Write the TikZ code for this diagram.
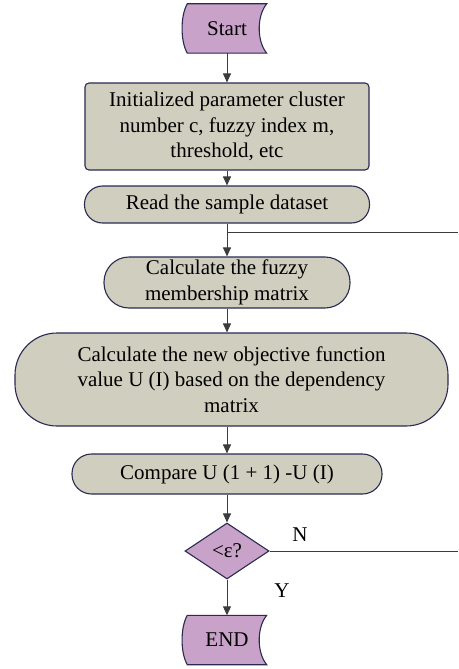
\documentclass[tikz,border=0pt]{standalone}
\usepackage{fontspec}
\setmainfont{Liberation Serif}
\usetikzlibrary{arrows.meta, shapes.geometric, backgrounds}
\definecolor{lilac}{RGB}{200,162,200}
\definecolor{stone}{RGB}{208,206,190}
\definecolor{rim}{RGB}{42,42,82}
\definecolor{linegray}{RGB}{60,60,60}

\begin{document}
\begin{tikzpicture}[x=1pt, y=-1pt,
    every node/.style={font=\fontsize{21}{25.5}\selectfont, inner sep=0pt},
    proc/.style={draw=rim, line width=1.1pt, fill=stone, align=center},
    term/.style={minimum width=79pt, minimum height=49pt},
    termline/.style={draw=rim, line width=1.1pt, fill=lilac},
    decide/.style={diamond, draw=rim, line width=1.1pt, fill=lilac, minimum width=84pt, minimum height=56pt, aspect=1.5},
    arr/.style={draw=linegray, line width=0.9pt, -{Triangle[length=9pt,width=8pt]}},
    wireline/.style={draw=linegray, line width=0.9pt}]
    \useasboundingbox (0,0) rectangle (458,669);

    \node[term] (start) at (227,28.5) {Start};
    \node[proc, rounded corners=4pt, minimum width=284pt, minimum height=87pt] (init) at (227,126.5) {Initialized parameter cluster\\number c, fuzzy index m,\\threshold, etc};
    \node[proc, rounded corners=18pt, minimum width=285pt, minimum height=37pt] (read) at (227,204.5) {Read the sample dataset};
    \node[proc, rounded corners=25pt, minimum width=246pt, minimum height=51pt] (fuzzy) at (227,282.5) {Calculate the fuzzy\\membership matrix};
    \node[proc, rounded corners=42pt, minimum width=433pt, minimum height=93pt] (objfn) at (231.5,379.5) {Calculate the new objective function\\value U (I) based on the dependency\\matrix};
    \node[proc, rounded corners=19.5pt, minimum width=310pt, minimum height=40pt] (comp) at (227,474) {Compare U (1 + 1) -U (I)};
    \node[decide] (conv) at (227,551) {<ε?};
    \node[term] (stop) at (227,640) {END};
    \node (nlab) at (300,535) {N};
    \node (ylab) at (282,591) {Y};

    \begin{scope}[on background layer]
      \foreach \t in {start, stop}
        \draw[termline] (\t.north west) .. controls +(-7,12) and +(-7,-12) .. (\t.south west) -- (\t.south east) .. controls +(-10,-12) and +(-10,12) .. (\t.north east) -- cycle;
    \end{scope}

    \coordinate (loopin) at (458,232);

    \draw[arr] (start) -- (init);
    \draw[arr] (init) -- (read);
    \draw[arr] (read) -- (fuzzy);
    \draw[arr] (fuzzy.south) -- (fuzzy.south |- objfn.north);
    \draw[arr] (fuzzy.south |- objfn.south) -- (comp.north);
    \draw[arr] (comp) -- (conv);
    \draw[arr] (conv) -- (stop);
    \draw[wireline] (read.south |- loopin) -- (loopin);
    \draw[wireline] (conv.east) -- (conv.east -| loopin);
\end{tikzpicture}
\end{document}
